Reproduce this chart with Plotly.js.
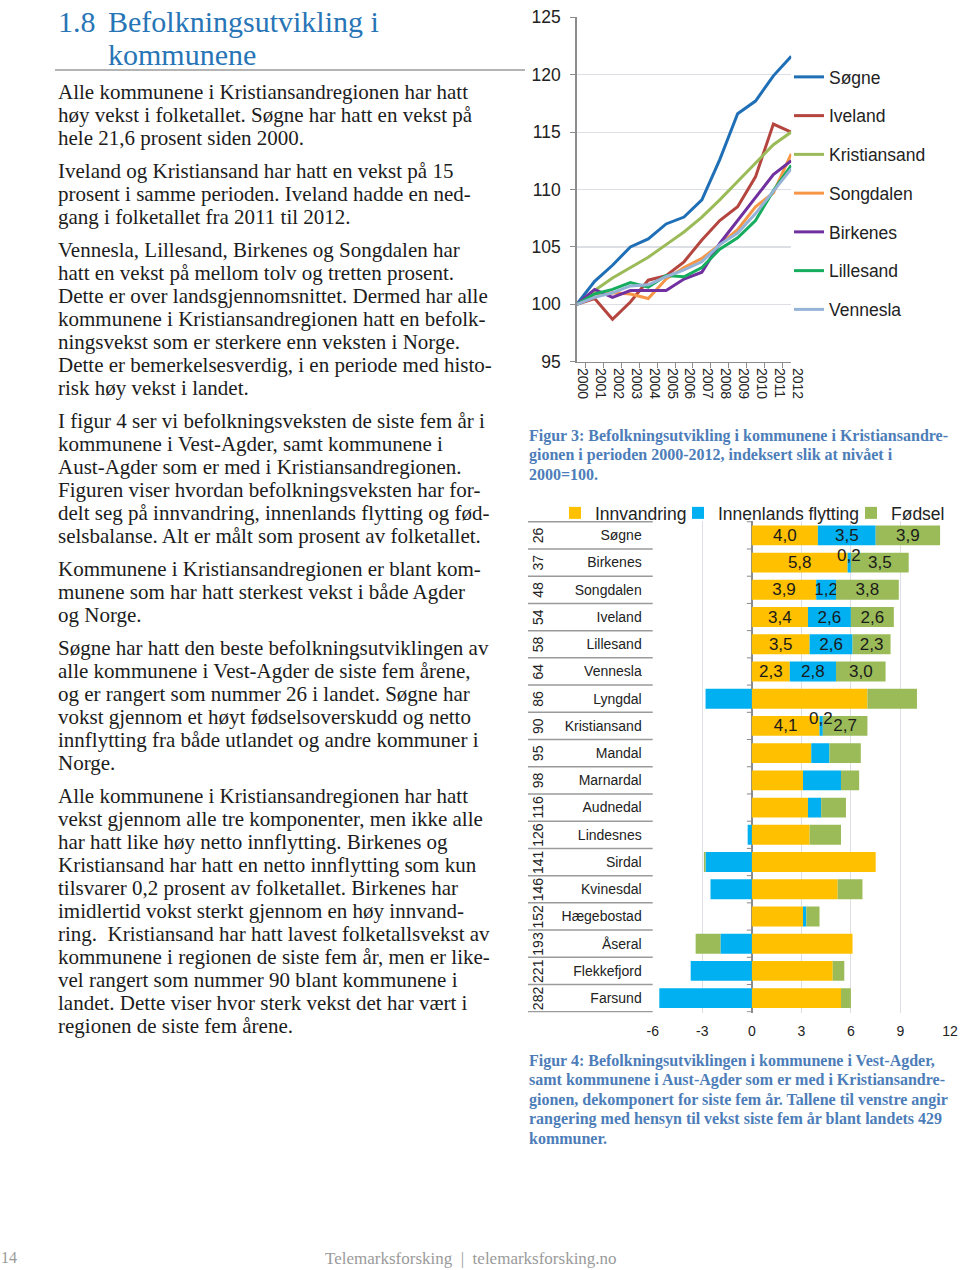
<!DOCTYPE html>
<html><head><meta charset="utf-8">
<script src="https://cdn.plot.ly/plotly-3.0.1.min.js"></script>
<style>
html,body{margin:0;padding:0;background:#fff}
body{width:960px;height:1270px;position:relative;overflow:hidden}
#chart{position:absolute;left:0;top:0;width:960px;height:1270px}
.serif{position:absolute;font-family:'Liberation Serif','Times New Roman',serif}
#h1a,#h1b{color:#2775b6;font-size:30px;line-height:33px;white-space:nowrap}
#rule{position:absolute;left:55px;top:69px;width:470px;height:2px;background:#b4b4b4}
#body{left:58px;top:81px;font-size:21px;line-height:23px;color:#1c1c1c;white-space:nowrap}
#body p{margin:0 0 10px 0}
.cap{color:#4d7db8;font-weight:bold;font-size:16px;line-height:19.4px;white-space:nowrap;left:529px}
.foot{color:#9a9a9a;font-size:17px;white-space:nowrap}
</style></head>
<body>
<div id="chart"></div>
<div class="serif" id="h1a" style="left:58px;top:5px">1.8</div>
<div class="serif" id="h1b" style="left:108px;top:5px">Befolkningsutvikling i<br>kommunene</div>
<div id="rule"></div>
<div class="serif" id="body">
<p>Alle kommunene i Kristiansandregionen har hatt<br>høy vekst i folketallet. Søgne har hatt en vekst på<br>hele 21,6 prosent siden 2000.</p>
<p>Iveland og Kristiansand har hatt en vekst på 15<br>prosent i samme perioden. Iveland hadde en ned-<br>gang i folketallet fra 2011 til 2012.</p>
<p>Vennesla, Lillesand, Birkenes og Songdalen har<br>hatt en vekst på mellom tolv og tretten prosent.<br>Dette er over landsgjennomsnittet. Dermed har alle<br>kommunene i Kristiansandregionen hatt en befolk-<br>ningsvekst som er sterkere enn veksten i Norge.<br>Dette er bemerkelsesverdig, i en periode med histo-<br>risk høy vekst i landet.</p>
<p>I figur 4 ser vi befolkningsveksten de siste fem år i<br>kommunene i Vest-Agder, samt kommunene i<br>Aust-Agder som er med i Kristiansandregionen.<br>Figuren viser hvordan befolkningsveksten har for-<br>delt seg på innvandring, innenlands flytting og fød-<br>selsbalanse. Alt er målt som prosent av folketallet.</p>
<p>Kommunene i Kristiansandregionen er blant kom-<br>munene som har hatt sterkest vekst i både Agder<br>og Norge.</p>
<p>Søgne har hatt den beste befolkningsutviklingen av<br>alle kommunene i Vest-Agder de siste fem årene,<br>og er rangert som nummer 26 i landet. Søgne har<br>vokst gjennom et høyt fødselsoverskudd og netto<br>innflytting fra både utlandet og andre kommuner i<br>Norge.</p>
<p>Alle kommunene i Kristiansandregionen har hatt<br>vekst gjennom alle tre komponenter, men ikke alle<br>har hatt like høy netto innflytting. Birkenes og<br>Kristiansand har hatt en netto innflytting som kun<br>tilsvarer 0,2 prosent av folketallet. Birkenes har<br>imidlertid vokst sterkt gjennom en høy innvand-<br>ring.&nbsp; Kristiansand har hatt lavest folketallsvekst av<br>kommunene i regionen de siste fem år, men er like-<br>vel rangert som nummer 90 blant kommunene i<br>landet. Dette viser hvor sterk vekst det har vært i<br>regionen de siste fem årene.</p>
</div>
<div class="serif cap" style="top:426px">Figur 3: Befolkningsutvikling i kommunene i Kristiansandre-<br>gionen i perioden 2000-2012, indeksert slik at nivået i<br>2000=100.</div>
<div class="serif cap" style="top:1051px">Figur 4: Befolkningsutviklingen i kommunene i Vest-Agder,<br>samt kommunene i Aust-Agder som er med i Kristiansandre-<br>gionen, dekomponert for siste fem år. Tallene til venstre angir<br>rangering med hensyn til vekst siste fem år blant landets 429<br>kommuner.</div>
<div class="serif foot" style="left:1px;top:1249px;font-size:16px">14</div>
<div class="serif foot" style="left:325px;top:1249px">Telemarksforsking&nbsp; |&nbsp; telemarksforsking.no</div>

<script>
// ---------- Figur 3: index 2000=100 ----------
var years = ['2000','2001','2002','2003','2004','2005','2006','2007','2008','2009','2010','2011','2012'];
var sogne        = [100, 102.0, 103.4, 105.0, 105.7, 107.0, 107.6, 109.1, 112.6, 116.6, 117.7, 119.9, 121.6];
var iveland      = [100, 100.5, 98.7, 100.2, 102.1, 102.5, 103.7, 105.6, 107.3, 108.5, 111.1, 115.7, 115.0];
var kristiansand = [100, 101.2, 102.3, 103.2, 104.1, 105.2, 106.3, 107.6, 109.1, 110.7, 112.3, 113.9, 115.0];
var songdalen    = [100, 100.9, 101.0, 100.9, 100.5, 102.2, 103.2, 104.0, 105.2, 106.5, 108.5, 109.7, 113.1];
var birkenes     = [100, 101.3, 100.6, 101.2, 101.2, 101.2, 102.2, 102.8, 105.3, 107.3, 109.4, 111.3, 112.5];
var lillesand    = [100, 100.9, 101.3, 101.9, 101.5, 102.5, 102.4, 103.2, 104.8, 105.8, 107.3, 109.9, 112.1];
var vennesla     = [100, 100.6, 101.0, 101.6, 101.7, 102.4, 103.0, 103.7, 105.2, 106.2, 107.9, 109.8, 111.8];
var lineNames  = ['Søgne','Iveland','Kristiansand','Songdalen','Birkenes','Lillesand','Vennesla'];
var lineData   = [sogne, iveland, kristiansand, songdalen, birkenes, lillesand, vennesla];
var lineColors = ['#1f6fb6','#b4453f','#9bbb59','#f79646','#7030a0','#16ad5e','#95b3d7'];

// ---------- Figur 4: decomposition, last five years ----------
var kommuner = ['Søgne','Birkenes','Songdalen','Iveland','Lillesand','Vennesla','Lyngdal','Kristiansand','Mandal','Marnardal','Audnedal','Lindesnes','Sirdal','Kvinesdal','Hægebostad','Åseral','Flekkefjord','Farsund'];
var rang     = [26, 37, 48, 54, 58, 64, 86, 90, 95, 98, 116, 126, 141, 146, 152, 193, 221, 282];
var innvandring = [4.0, 5.8, 3.9, 3.4, 3.5, 2.3, 7.0, 4.1, 3.6, 3.1, 3.4, 3.5, 7.5, 5.2, 3.1, 6.1, 4.9, 5.4];
var innenlands  = [3.5, 0.2, 1.2, 2.6, 2.6, 2.8, -2.8, 0.2, 1.1, 2.3, 0.8, -0.25, -2.8, -2.5, 0.2, -1.9, -3.7, -5.6];
var fodsel      = [3.9, 3.5, 3.8, 2.6, 2.3, 3.0, 3.0, 2.7, 1.9, 1.1, 1.5, 1.9, -0.1, 1.5, 0.8, -1.5, 0.7, 0.6];
var visLabel    = [true, true, true, true, true, true, false, true, false, false, false, false, false, false, false, false, false, false];
var barNames  = ['Innvandring','Innenlands flytting','Fødsel'];
var barData   = [innvandring, innenlands, fodsel];
var barColors = ['#ffc000','#00b0f0','#9bbb59'];
var xTicks = [-6, -3, 0, 3, 6, 9, 12];

var W = 960, H = 1270;
function px(x){ return x / W; }
function py(y){ return 1 - y / H; }
var sans = 'Liberation Sans, Arial, sans-serif';

var traces = [];
lineNames.forEach(function(n, i){
  traces.push({
    type: 'scatter', mode: 'lines', name: n, x: years, y: lineData[i],
    xaxis: 'x', yaxis: 'y', legend: 'legend', legendgroup: n,
    line: {color: lineColors[i], width: 3}, hoverinfo: 'skip'
  });
});
function fmt(v){ return v.toFixed(1).replace('.', ','); }

var shapes = [];
var annotations = [];
var legendW = [78, 128, 60];
var posSum = kommuner.map(function(){ return 0; });
barNames.forEach(function(n, k){
  var vals = barData[k];
  var txt = vals.map(function(v, i){
    var start = posSum[i];
    var lbl = visLabel[i] ? fmt(v) : '';
    if (visLabel[i] && Math.abs(v) < 0.5) {
      // narrow segment: label drawn above the stack, centred on the segment
      annotations.push({xref: 'x2', yref: 'y2', x: start + v / 2, y: kommuner[i], text: lbl,
                        showarrow: false, yshift: 7, font: {family: sans, size: 17, color: '#1a1a1a'}});
      lbl = '';
    }
    if (v > 0) posSum[i] += v;
    return lbl;
  });
  traces.push({
    type: 'bar', orientation: 'h', name: n, y: kommuner, x: vals,
    xaxis: 'x2', yaxis: 'y2', legend: 'legend2', legendwidth: legendW[k],
    marker: {color: barColors[k]},
    text: txt, textposition: 'inside', insidetextanchor: 'middle', constraintext: 'none', textangle: 0,
    textfont: {family: sans, size: 17, color: '#1a1a1a'},
    hoverinfo: 'skip'
  });
});

for (var i = 0; i <= kommuner.length; i++) {
  shapes.push({type: 'line', xref: 'paper', yref: 'y2', x0: px(528), x1: px(652.7), y0: i - 0.5, y1: i - 0.5,
               line: {color: '#9a9a9a', width: 1.5}});
  shapes.push({type: 'line', xref: 'x2', yref: 'y2', x0: -0.3, x1: 0, y0: i - 0.5, y1: i - 0.5,
               line: {color: '#8a8a8a', width: 1}});
}
kommuner.forEach(function(k, i){
  annotations.push({xref: 'paper', yref: 'y2', x: px(538), y: k, text: String(rang[i]), textangle: -90,
                    showarrow: false, font: {family: sans, size: 14, color: '#222'}});
});

var layout = {
  width: W, height: H, margin: {l: 0, r: 0, t: 0, b: 0, pad: 0, autoexpand: false},
  paper_bgcolor: 'rgba(0,0,0,0)', plot_bgcolor: 'rgba(0,0,0,0)',
  font: {family: sans, color: '#222'},
  showlegend: true,
  xaxis: {domain: [px(576.75), px(791.25)], anchor: 'y', type: 'category', tickangle: 90,
          tickfont: {size: 14, color: '#222'}, showline: true, linecolor: '#8c8c8c', linewidth: 1.5,
          ticks: 'outside', ticklen: 5, tickcolor: '#8c8c8c', tickson: 'boundaries', showgrid: false,
          ticklabelstandoff: 2, ticklabelshift: 6, fixedrange: true, automargin: false},
  yaxis: {domain: [py(361.7), py(17.3)], anchor: 'x', range: [95, 125], dtick: 5,
          tickfont: {size: 17.5, color: '#222'}, showline: true, linecolor: '#8c8c8c', linewidth: 1.5,
          ticks: 'outside', ticklen: 5, tickcolor: '#8c8c8c', showgrid: true, gridcolor: '#dcdfe3',
          gridwidth: 1.2, zeroline: false, ticklabelstandoff: 6, fixedrange: true, automargin: false},
  xaxis2: {domain: [px(652.7), px(950)], anchor: 'y2', range: [-6, 12], tickvals: xTicks,
           ticktext: xTicks.map(String), tickfont: {size: 14, color: '#222'}, showgrid: true,
           gridcolor: '#dcdfe3', gridwidth: 1, zeroline: true, zerolinecolor: '#8c8c8c', zerolinewidth: 1.5,
           showline: false, ticks: '', ticklabelstandoff: 8, fixedrange: true, automargin: false},
  yaxis2: {domain: [py(1012.5), py(521)], anchor: 'x2', type: 'category', categoryorder: 'array',
           categoryarray: kommuner, autorange: 'reversed', tickfont: {size: 14, color: '#222'},
           ticks: '', showgrid: false, showline: false, zeroline: false, ticklabelstandoff: 10,
           fixedrange: true, automargin: false},
  barmode: 'relative', bargap: 0.27,
  legend: {x: px(789), xanchor: 'left', y: py(59), yanchor: 'top', traceorder: 'grouped',
           tracegroupgap: 13, font: {size: 17.5, color: '#222'}, bgcolor: 'rgba(0,0,0,0)', itemwidth: 30},
  legend2: {orientation: 'h', x: px(555), xanchor: 'left', y: py(495), yanchor: 'top',
            font: {size: 17.5, color: '#222'}, bgcolor: 'rgba(0,0,0,0)', traceorder: 'normal', itemwidth: 30},
  shapes: shapes, annotations: annotations
};

Plotly.newPlot('chart', traces, layout, {staticPlot: true, displayModeBar: false});
</script>
</body></html>
